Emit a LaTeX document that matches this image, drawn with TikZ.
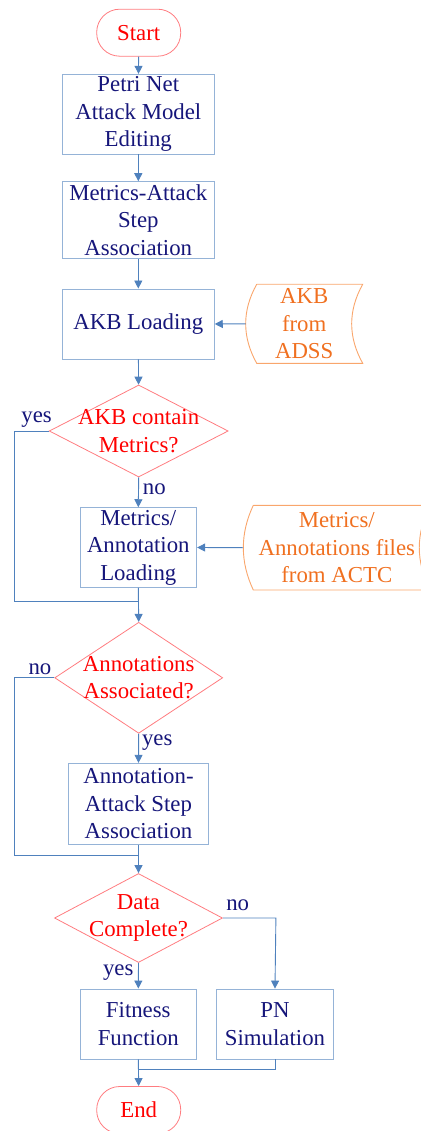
\documentclass[tikz,border=0pt]{standalone}
\usepackage{fontspec}
\setmainfont{Liberation Serif}
\usetikzlibrary{shapes.geometric,arrows.meta}
\definecolor{boxline}{RGB}{149,179,215}
\definecolor{navy}{RGB}{22,22,122}
\definecolor{arrowblue}{RGB}{79,129,189}
\definecolor{termline}{RGB}{255,124,128}
\definecolor{dataline}{RGB}{249,166,108}
\definecolor{datatext}{RGB}{240,112,32}
\begin{document}
\begin{tikzpicture}[x=1pt,y=-1pt,
  every node/.style={font=\fontsize{22.8}{27.5}\selectfont, inner sep=0pt},
  process/.style={draw=boxline, line width=0.9pt, text=navy, align=center},
  terminal/.style={draw=termline, line width=0.8pt, text=red, rounded corners=23pt,
                   minimum width=84pt, minimum height=47pt},
  decision/.style={diamond, draw=termline, line width=0.8pt},
  dtext/.style={text=red, align=center},
  datasrc/.style={text=datatext, align=center},
  datashape/.style={draw=dataline, line width=0.9pt},
  flow/.style={draw=arrowblue, line width=0.9pt, -{Triangle[width=8pt,length=8pt]}},
  link/.style={draw=arrowblue, line width=0.9pt},
  answer/.style={text=navy},
]
\useasboundingbox (0,0) rectangle (420,1131);

% main column
\node[terminal] (start) at (138.7,32.7) {Start};
\node[process, minimum width=152pt, minimum height=79.7pt] (pn) at (138.3,114.2)
  {Petri Net\\Attack Model\\Editing};
\node[process, minimum width=152pt, minimum height=77pt] (mas) at (138.3,220.2)
  {Metrics-Attack\\Step\\Association};
\node[process, minimum width=152pt, minimum height=70pt] (akb) at (138.3,324)
  {AKB Loading};
\node[decision, minimum width=179pt, minimum height=92pt,
      label={[dtext]center:{AKB contain\\Metrics?}}] (d1) at (138.7,431) {};
\node[process, minimum width=116.7pt, minimum height=79.6pt] (mal) at (138.3,547.5)
  {Metrics/\\Annotation\\Loading};
\node[decision, minimum width=168pt, minimum height=111pt,
      label={[dtext]center:{Annotations\\Associated?}}] (d2) at (138.7,677.8) {};
\node[process, minimum width=140.3pt, minimum height=81pt] (aas) at (138.5,803.8)
  {Annotation-\\Attack Step\\Association};
\node[decision, minimum width=168pt, minimum height=89pt,
      label={[dtext]center:{Data\\Complete?}}] (d3) at (138.5,918) {};
\node[process, minimum width=116.7pt, minimum height=70pt] (ff) at (138.3,1024)
  {Fitness\\Function};
\node[process, minimum width=116.7pt, minimum height=70pt] (pns) at (275,1024)
  {PN\\Simulation};
\node[terminal] (end) at (138.7,1110) {End};

% stored data sources
\node[datasrc, minimum width=117pt, minimum height=79pt] (akbsrc) at (304.2,323.8)
  {AKB\\from\\ADSS};
\draw[datashape] (256.7,284.3) -- (362.7,284.3)
  .. controls (348,310.6) and (348,337) .. (362.7,363.3) -- (256.7,363.3)
  .. controls (242,337) and (242,310.6) .. (256.7,284.3);
\node[datasrc, minimum width=187pt, minimum height=84.7pt] (mafsrc) at (336.8,547.7)
  {Metrics/\\Annotations files\\from ACTC};
\draw[datashape] (253.3,505.3) -- (430.3,505.3)
  .. controls (415.6,533.6) and (415.6,561.7) .. (430.3,590) -- (253.3,590)
  .. controls (240,561.7) and (240,533.6) .. (253.3,505.3);

% join points
\coordinate (j1) at (138.7,601);
\coordinate (j2) at (138.7,855);
\coordinate (j3) at (138.7,1069.3);

% connectors
\draw[flow] (start) -- (pn);
\draw[flow] (pn) -- (mas);
\draw[flow] (mas) -- (akb);
\draw[flow] (akbsrc.west) -- (akb.east);
\draw[flow] (akb) -- (d1);
\draw[flow] (d1.south) -- node[answer, pos=0.58, anchor=base west, xshift=4pt] {no} (mal.north);
\draw[link] (d1.west) -- node[answer, pos=0.35, anchor=base, yshift=9pt] {yes} ++(-34.7,0) |- (j1);
\draw[flow] (mafsrc.west) -- (mal.east);
\draw[flow] (mal.south) -- (d2.north);
\draw[link] (d2.west) -- node[answer, pos=0.36, anchor=base, yshift=3.4pt] {no} ++(-40,0) |- (j2);
\draw[flow] (d2.south) -- node[answer, pos=0.39, anchor=base west, xshift=3pt] {yes} (aas.north);
\draw[flow] (aas.south) -- (d3.north);
\draw[flow] (d3.south) -- node[answer, pos=0.5, anchor=base east, xshift=-4.5pt] {yes} (ff.north);
\draw[flow] (d3.east) -- node[answer, pos=0.28, anchor=base, yshift=7.2pt] {no} ++(53,0) -- (pns.north);
\draw[flow] (ff.south) -- (end.north);
\draw[link] (pns.south) |- (j3);
\end{tikzpicture}
\end{document}
